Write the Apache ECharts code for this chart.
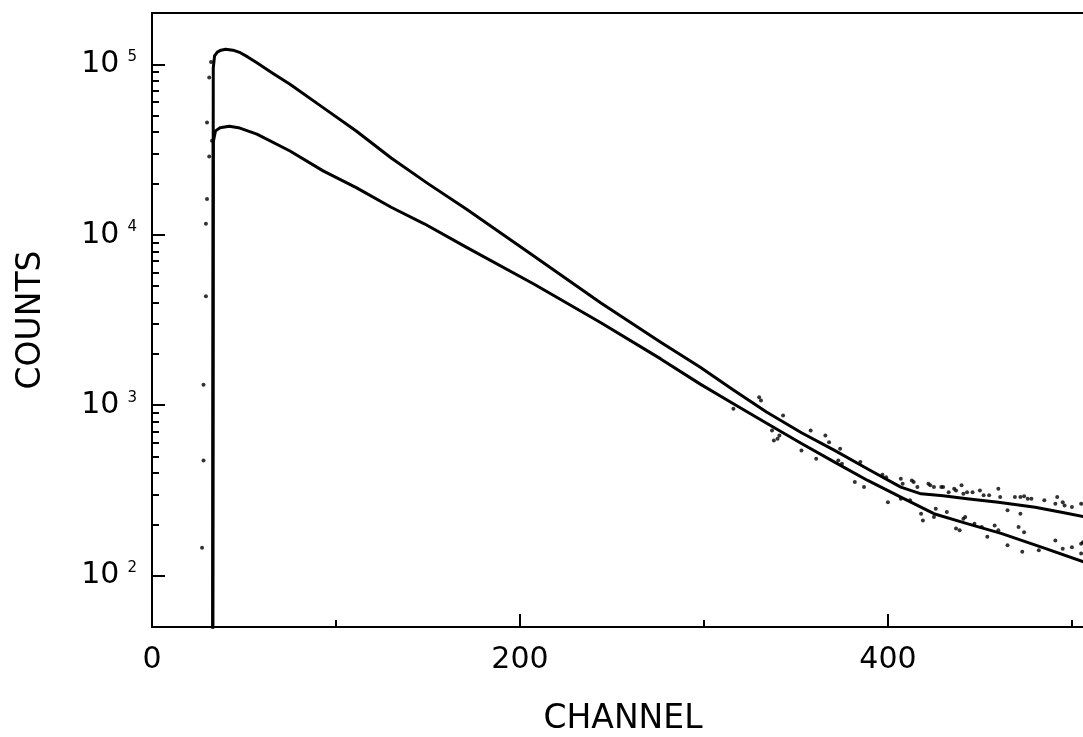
<!DOCTYPE html>
<html>
<head>
<meta charset="utf-8">
<script src="https://cdn.jsdelivr.net/npm/echarts@6/dist/echarts.min.js"></script>
<style>
  html, body { margin: 0; padding: 0; background: #fff; }
  #chart { width: 1083px; height: 737px; }
</style>
</head>
<body>
<div id="chart"></div>
<script>
// Fitted spectra: [channel, counts]
const upperFit = [
  [33, 30], [33.3, 95000], [34, 112000], [35.5, 118000], [37.5, 121000], [40, 122500],
  [44, 121000], [48, 117000], [52, 110500], [57, 102000], [66, 88000], [75, 76400],
  [93, 55700], [111, 40600], [130, 28200], [150, 19950], [171, 14100], [207.5, 7500],
  [244, 3980], [276.5, 2340], [298, 1670], [316, 1230], [334, 912], [353, 690], [371, 543],
  [390, 417], [407, 331], [418, 302], [430, 294], [443, 283], [460, 270],
  [480, 252], [495, 235], [512, 216]
];
const lowerFit = [
  [33, 30], [33.3, 35000], [34.5, 40700], [37, 42500], [42, 43300], [47, 42500],
  [52, 40700], [57, 38900], [75, 31000], [93, 23700], [111, 18900], [130, 14500],
  [148, 11600], [171, 8430], [207.5, 5140], [244, 3050], [276.5, 1870], [298, 1330],
  [316, 1020], [335, 773], [353, 596], [371, 464], [389, 362], [407, 289],
  [425, 231], [443, 202], [461.5, 177], [485, 145], [507, 120], [512, 116]
];

// Measured counts scattered off the fitted curves
const upperPoints = [
  [330, 1114], [331, 1066], [343, 871], [358, 711], [366, 664], [368, 607], [374, 555],
  [385, 464], [397, 391], [399, 378], [407, 371], [408, 346], [413, 362], [414, 354],
  [416, 331], [422, 346], [423, 339], [425, 331], [429, 331], [430, 331], [433, 309],
  [436, 324], [437, 316], [440, 339], [441, 302], [443, 309], [446, 309], [450, 316],
  [452, 296], [455, 296], [460, 324], [461, 289], [465, 242], [469, 289], [472, 289],
  [472, 231], [474, 292], [476, 283], [478, 283], [485, 277], [491, 264], [492, 289],
  [495, 270], [496, 258], [500, 253], [505, 264]
];
const lowerPoints = [
  [316, 953], [337, 711], [338, 621], [340, 635], [341, 664], [353, 543], [361, 485],
  [373, 474], [375, 454], [382, 354], [387, 331], [400, 270], [407, 283], [412, 277],
  [418, 231], [419, 211], [425, 221], [426, 247], [432, 236], [437, 189], [439, 185],
  [441, 216], [442, 221], [447, 202], [451, 193], [454, 169], [458, 197], [460, 185],
  [465, 151], [471, 193], [473, 138], [474, 180], [482, 141], [491, 161], [495, 144],
  [500, 147], [505, 154], [505, 135], [506, 157]
];
const edgePoints = [
  [32.1, 103000], [31.1, 83600], [29.9, 45500], [32.6, 35600], [31.1, 28800],
  [29.9, 16200], [29.3, 11600], [29.3, 4360], [28.0, 1320], [28.0, 474], [27.2, 146]
];

// Axis ticks and labels
const xMajorTicks = [0, 200, 400];
const xMinorTicks = [100, 300, 500];
const yMajorTicks = [100, 1000, 10000, 100000];
const yMinorTicks = [
  200, 300, 400, 500, 600, 700, 800, 900,
  2000, 3000, 4000, 5000, 6000, 7000, 8000, 9000,
  20000, 30000, 40000, 50000, 60000, 70000, 80000, 90000
];

const FONT = 'DejaVu Sans';
const INK = '#000';

const chart = echarts.init(document.getElementById('chart'), null, { renderer: 'canvas' });

const xBase = { type: 'value', min: 0, max: 512, splitLine: { show: false } };
const yBase = { type: 'log', logBase: 10, min: 50, max: 200000, splitLine: { show: false } };

chart.setOption({
  animation: false,
  backgroundColor: '#fff',
  grid: {
    left: 152, top: 13, bottom: 110, right: -11,
    containLabel: false, outerBoundsMode: 'none'
  },
  xAxis: [
    Object.assign({}, xBase, {
      position: 'bottom',
      name: 'CHANNEL',
      nameLocation: 'middle',
      nameGap: 76,
      nameTextStyle: { fontFamily: FONT, fontSize: 33, color: INK },
      axisLine: { show: true, onZero: false, lineStyle: { color: INK, width: 2 } },
      axisTick: { show: true, inside: true, length: 13, customValues: xMajorTicks, lineStyle: { color: INK, width: 2 } },
      axisLabel: { show: true, customValues: xMajorTicks, margin: 18, fontFamily: FONT, fontSize: 30, color: INK }
    }),
    Object.assign({}, xBase, {
      position: 'bottom',
      axisLine: { show: false, onZero: false },
      axisTick: { show: true, inside: true, length: 7, customValues: xMinorTicks, lineStyle: { color: INK, width: 2 } },
      axisLabel: { show: false }
    }),
    Object.assign({}, xBase, {
      position: 'top',
      axisLine: { show: true, onZero: false, lineStyle: { color: INK, width: 2 } },
      axisTick: { show: false },
      axisLabel: { show: false }
    })
  ],
  yAxis: [
    Object.assign({}, yBase, {
      position: 'left',
      name: 'COUNTS',
      nameLocation: 'middle',
      nameGap: 104,
      nameRotate: 90,
      nameTextStyle: { fontFamily: FONT, fontSize: 33, color: INK },
      axisLine: { show: true, onZero: false, lineStyle: { color: INK, width: 2 } },
      axisTick: { show: true, inside: true, length: 13, customValues: yMajorTicks, lineStyle: { color: INK, width: 2 } },
      axisLabel: {
        show: true,
        customValues: yMajorTicks,
        margin: 15,
        formatter: function (v) {
          return '{b|10}{s|' + Math.round(Math.log10(v)) + '}';
        },
        rich: {
          b: { fontFamily: FONT, fontSize: 30, color: INK },
          s: { fontFamily: FONT, fontSize: 15, color: INK, verticalAlign: 'top', padding: [0, 0, 0, 8] }
        }
      }
    }),
    Object.assign({}, yBase, {
      position: 'left',
      axisLine: { show: false, onZero: false },
      axisTick: { show: true, inside: true, length: 7, customValues: yMinorTicks, lineStyle: { color: INK, width: 2 } },
      axisLabel: { show: false }
    })
  ],
  series: [
    {
      name: 'upper fit', type: 'line', xAxisIndex: 0, yAxisIndex: 0,
      data: upperFit, symbol: 'none', clip: true,
      lineStyle: { color: INK, width: 3, join: 'round' }
    },
    {
      name: 'lower fit', type: 'line', xAxisIndex: 0, yAxisIndex: 0,
      data: lowerFit, symbol: 'none', clip: true,
      lineStyle: { color: INK, width: 3, join: 'round' }
    },
    {
      name: 'upper counts', type: 'scatter', xAxisIndex: 0, yAxisIndex: 0,
      data: upperPoints, symbol: 'circle', symbolSize: 4, itemStyle: { color: INK }
    },
    {
      name: 'lower counts', type: 'scatter', xAxisIndex: 0, yAxisIndex: 0,
      data: lowerPoints, symbol: 'circle', symbolSize: 4, itemStyle: { color: INK }
    },
    {
      name: 'rising edge', type: 'scatter', xAxisIndex: 0, yAxisIndex: 0,
      data: edgePoints, symbol: 'circle', symbolSize: 4, itemStyle: { color: INK }
    }
  ]
});
</script>
</body>
</html>
